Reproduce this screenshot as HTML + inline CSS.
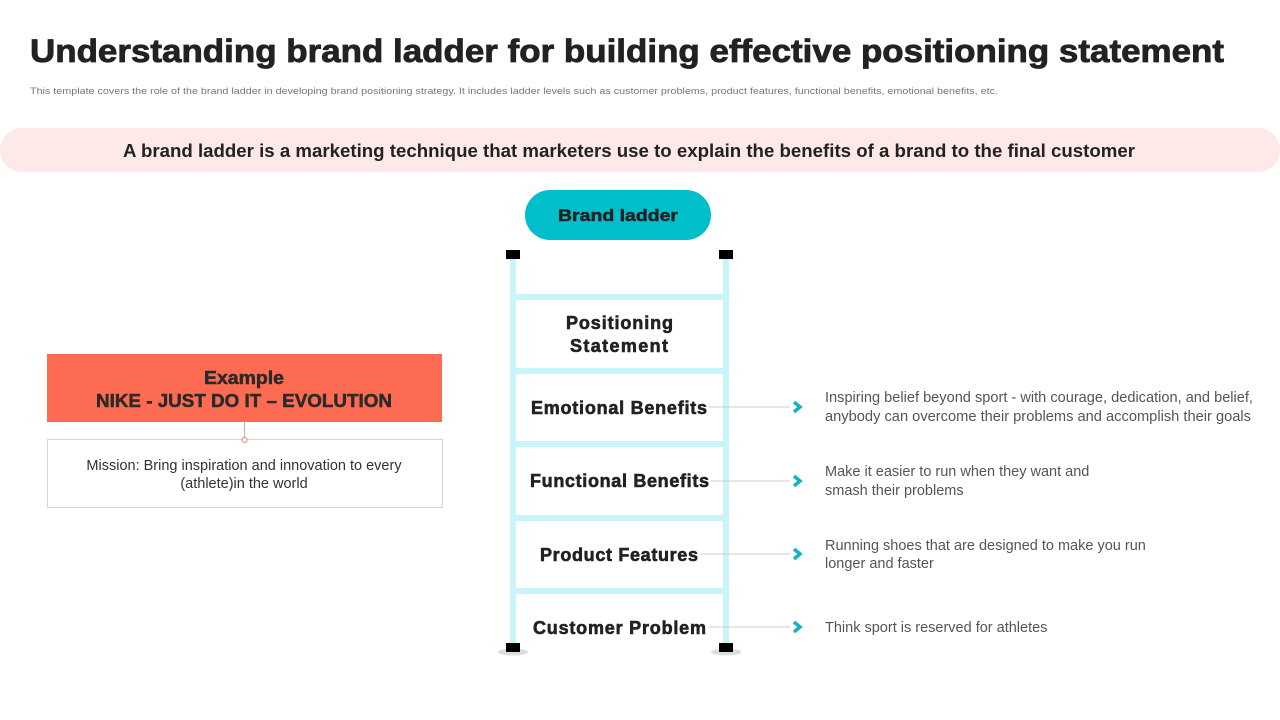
<!DOCTYPE html>
<html><head><meta charset="utf-8"><style>
body{margin:0;width:1280px;height:720px;background:#fff;position:relative;overflow:hidden;font-family:"Liberation Sans",sans-serif}
svg{position:absolute;left:0;top:0}
</style></head><body>
<svg width="1280" height="720" viewBox="0 0 1280 720" font-family="Liberation Sans, sans-serif">
<text x="30" y="62" font-size="32" font-weight="bold" fill="#222" stroke="#222" stroke-width="0.8" textLength="1194" lengthAdjust="spacingAndGlyphs">Understanding brand ladder for building effective positioning statement</text>
<text x="30" y="94" font-size="9.5" fill="#777" textLength="968" lengthAdjust="spacingAndGlyphs">This template covers the role of the brand ladder in developing brand positioning strategy. It includes ladder levels such as customer problems, product features, functional benefits, emotional benefits, etc.</text>
<rect x="0" y="128" width="1280" height="44" rx="22" fill="#fdeae8"/>
<text x="629" y="157" font-size="18.5" font-weight="bold" fill="#222" text-anchor="middle" textLength="1012" lengthAdjust="spacingAndGlyphs">A brand ladder is a marketing technique that marketers use to explain the benefits of a brand to the final customer</text>
<rect x="525" y="190" width="186" height="50" rx="25" fill="#00bfca"/>
<text x="558" y="221" font-size="17" font-weight="bold" fill="#222" stroke="#222" stroke-width="0.5" textLength="120" lengthAdjust="spacingAndGlyphs">Brand ladder</text>
<g fill="#c9f5fa">
<rect x="510" y="256" width="6" height="392"/><rect x="723" y="256" width="6" height="392"/>
<rect x="510" y="294" width="219" height="6"/><rect x="510" y="368" width="219" height="6"/>
<rect x="510" y="441" width="219" height="6"/><rect x="510" y="515" width="219" height="6"/>
<rect x="510" y="588" width="219" height="6"/>
</g>
<ellipse cx="513" cy="652" rx="15" ry="3.5" fill="#ddd"/><ellipse cx="726" cy="652" rx="15" ry="3.5" fill="#ddd"/>
<rect x="506" y="250" width="14" height="9" fill="#000"/><rect x="719" y="250" width="14" height="9" fill="#000"/>
<rect x="506" y="643" width="14" height="9" fill="#000"/><rect x="719" y="643" width="14" height="9" fill="#000"/>
<g font-size="18" font-weight="bold" fill="#222" stroke="#222" stroke-width="0.6" lengthAdjust="spacingAndGlyphs">
<text x="566" y="329" textLength="107">Positioning</text><text x="570" y="352" textLength="98">Statement</text>
<text x="531" y="414" textLength="176">Emotional Benefits</text>
<text x="530" y="487" textLength="179">Functional Benefits</text>
<text x="540" y="561" textLength="158">Product Features</text>
<text x="533" y="634" textLength="173">Customer Problem</text>
</g>
<g stroke="#ccc" stroke-width="1">
<line x1="709" y1="407" x2="790" y2="407"/><line x1="711" y1="481" x2="790" y2="481"/>
<line x1="700" y1="554" x2="790" y2="554"/><line x1="708" y1="627" x2="790" y2="627"/>
</g>
<g fill="none" stroke="#14b3bf" stroke-width="3.5">
<polyline points="794,402 800,407 794,412"/><polyline points="794,476 800,481 794,486"/>
<polyline points="794,549 800,554 794,559"/><polyline points="794,622 800,627 794,632"/>
</g>
<g font-size="14.5" fill="#555">
<text x="825" y="402" textLength="428" lengthAdjust="spacingAndGlyphs">Inspiring belief beyond sport - with courage, dedication, and belief,</text>
<text x="825" y="421" textLength="426" lengthAdjust="spacingAndGlyphs">anybody can overcome their problems and accomplish their goals</text>
<text x="825" y="476">Make it easier to run when they want and</text>
<text x="825" y="495">smash their problems</text>
<text x="825" y="550">Running shoes that are designed to make you run</text>
<text x="825" y="568">longer and faster</text>
<text x="825" y="632">Think sport is reserved for athletes</text>
</g>
<rect x="47" y="354" width="395" height="68" fill="#fd6b53"/>
<text x="204" y="384" font-size="18" font-weight="bold" fill="#2a2a2a" stroke="#2a2a2a" stroke-width="0.5" textLength="80" lengthAdjust="spacingAndGlyphs">Example</text>
<text x="96" y="407" font-size="18" font-weight="bold" fill="#2a2a2a" stroke="#2a2a2a" stroke-width="0.5" textLength="296" lengthAdjust="spacingAndGlyphs">NIKE - JUST DO IT – EVOLUTION</text>
<rect x="47.5" y="439.5" width="395" height="68" fill="#fff" stroke="#d5d5d5"/>
<line x1="244.5" y1="422" x2="244.5" y2="437" stroke="#e0a8a0"/>
<circle cx="244.5" cy="440" r="2.5" fill="#fff" stroke="#e08070"/>
<text x="244" y="470" font-size="14.5" fill="#333" text-anchor="middle">Mission: Bring inspiration and innovation to every</text>
<text x="244" y="488" font-size="14.5" fill="#333" text-anchor="middle">(athlete)in the world</text>
</svg>
</body></html>
